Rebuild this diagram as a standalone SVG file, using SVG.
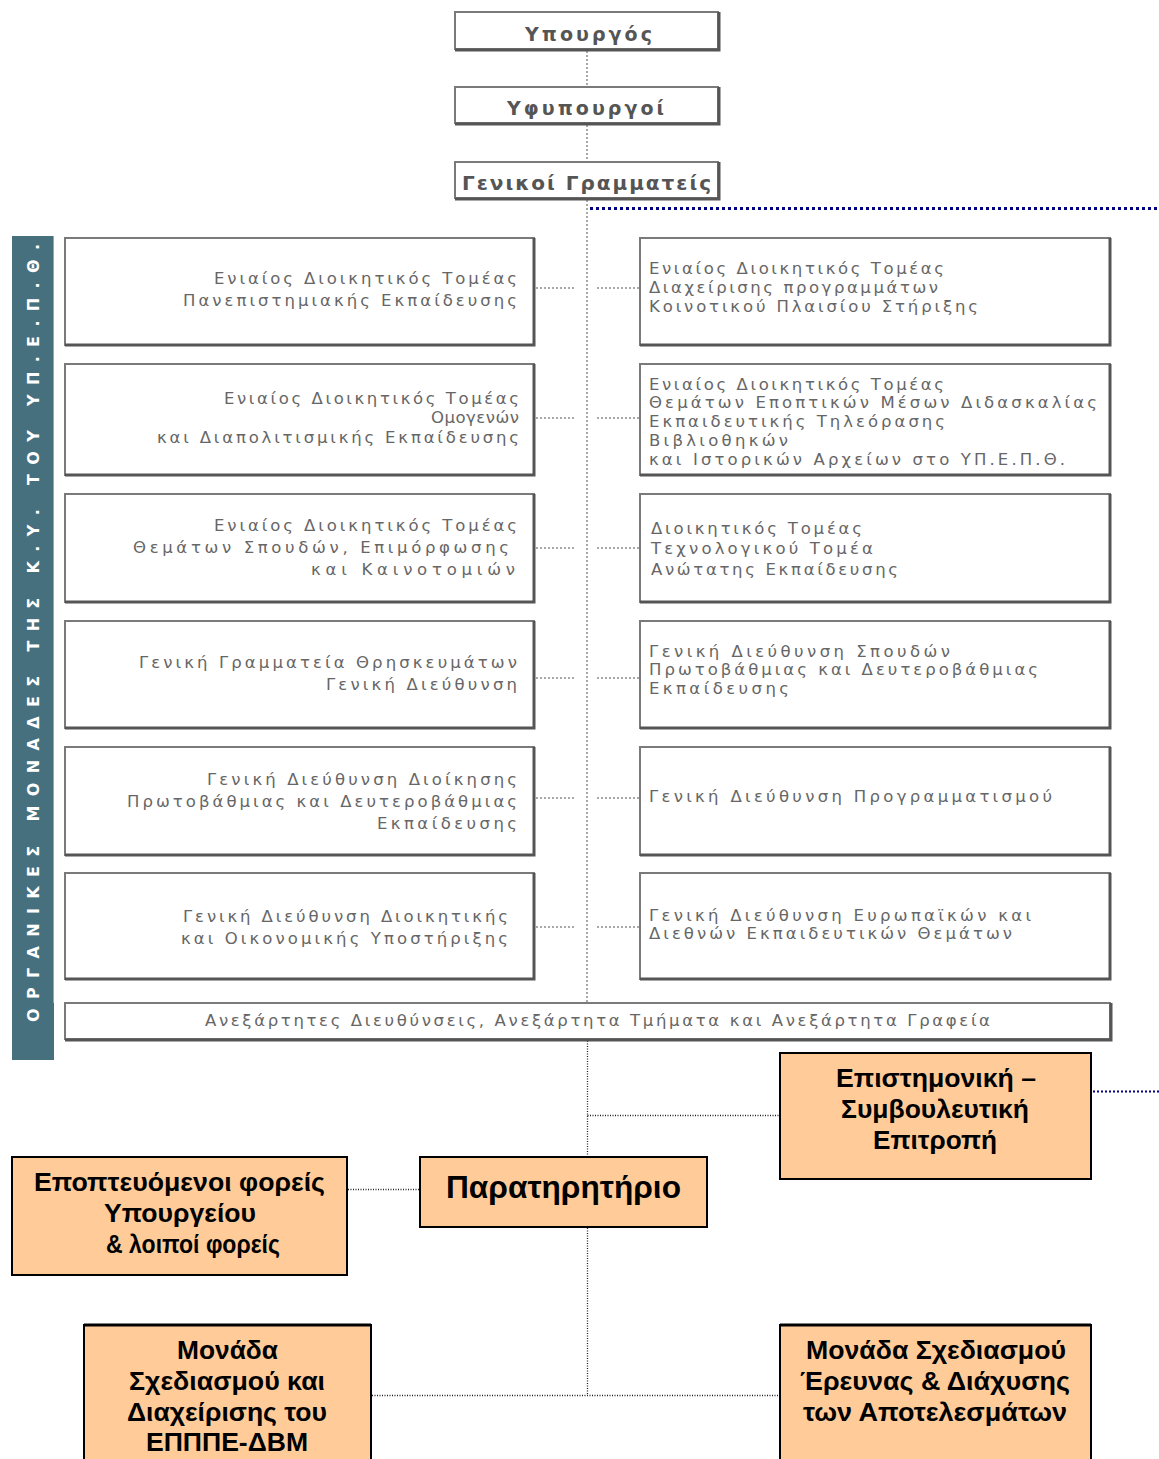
<svg xmlns="http://www.w3.org/2000/svg" width="1159" height="1459" viewBox="0 0 1159 1459">
<style>
.bg{fill:#ffffff}
.gbox{fill:#ffffff;stroke:#7a7a7a;stroke-width:2}
.gsh{fill:none;stroke:#555555;stroke-width:3}
.obox{fill:#ffcc99;stroke:#000000;stroke-width:2}
.t{font-family:"DejaVu Sans",Verdana,sans-serif;font-size:16.5px;fill:#666666}
.tt{font-family:"DejaVu Sans",Verdana,sans-serif;font-size:19px;font-weight:bold;fill:#555555}
.ot{font-family:"Liberation Sans",Arial,sans-serif;font-size:26px;font-weight:bold;fill:#000000}
.side{font-family:"DejaVu Sans",Verdana,sans-serif;font-size:16px;font-weight:bold;fill:#ffffff}
.gd{fill:none;stroke:#a8a8a8;stroke-width:2;stroke-dasharray:2,2}
.kd{fill:none;stroke:#222222;stroke-width:1.3;stroke-dasharray:1,1.5}
.bd{fill:none;stroke:#000080;stroke-width:3;stroke-dasharray:3,3}
</style>
<rect class="bg" x="0" y="0" width="1159" height="1459"/>

<g id="connectors">
  <line class="gd" x1="587" y1="51" x2="587" y2="87"/>
  <line class="gd" x1="587" y1="125" x2="587" y2="162"/>
  <line class="gd" x1="587" y1="200" x2="587" y2="1003"/>
  <line class="bd" x1="590" y1="208.5" x2="1159" y2="208.5"/>
  <g>
    <line class="gd" x1="536" y1="288" x2="576" y2="288"/><line class="gd" x1="597" y1="288" x2="639" y2="288"/>
    <line class="gd" x1="536" y1="418" x2="576" y2="418"/><line class="gd" x1="597" y1="418" x2="639" y2="418"/>
    <line class="gd" x1="536" y1="548" x2="576" y2="548"/><line class="gd" x1="597" y1="548" x2="639" y2="548"/>
    <line class="gd" x1="536" y1="678" x2="576" y2="678"/><line class="gd" x1="597" y1="678" x2="639" y2="678"/>
    <line class="gd" x1="536" y1="798" x2="576" y2="798"/><line class="gd" x1="597" y1="798" x2="639" y2="798"/>
    <line class="gd" x1="536" y1="927" x2="576" y2="927"/><line class="gd" x1="597" y1="927" x2="639" y2="927"/>
  </g>
  <line class="kd" x1="587.5" y1="1041" x2="587.5" y2="1156"/>
  <line class="kd" x1="587.5" y1="1115.5" x2="779" y2="1115.5"/>
  <line class="bd" x1="1093" y1="1091.5" x2="1159" y2="1091.5" style="stroke-width:2;stroke-dasharray:2,2"/>
  <line class="kd" x1="348" y1="1189.5" x2="419" y2="1189.5"/>
  <line class="kd" x1="587.5" y1="1228" x2="587.5" y2="1395"/>
  <line class="kd" x1="372" y1="1395.5" x2="779" y2="1395.5"/>
</g>

<g id="n-ypourgos">
  <rect class="gbox" x="455" y="12" width="263" height="37"/>
  <path class="gsh" d="M455 50 H719 V12"/>
  <text class="tt" x="525" y="41" textLength="127" lengthAdjust="spacing">Υπουργός</text>
</g>
<g id="n-yfypourgoi">
  <rect class="gbox" x="455" y="87" width="263" height="36"/>
  <path class="gsh" d="M455 124 H719 V87"/>
  <text class="tt" x="507" y="115" textLength="157" lengthAdjust="spacing">Υφυπουργοί</text>
</g>
<g id="n-genikoi">
  <rect class="gbox" x="455" y="162" width="263" height="36"/>
  <path class="gsh" d="M455 199 H719 V162"/>
  <text class="tt" x="462" y="190" textLength="249" lengthAdjust="spacing" style="font-size:20px">Γενικοί Γραμματείς</text>
</g>

<g id="n-sidebar">
  <rect x="12" y="236" width="42" height="824" fill="#47707f"/>
  <line x1="53.5" y1="236" x2="53.5" y2="1003" stroke="#8fa9b3" stroke-width="1"/>
  <text class="side" transform="translate(39,1022) rotate(-90)" x="0" y="0" textLength="778" lengthAdjust="spacing">ΟΡΓΑΝΙΚΕΣ ΜΟΝΑΔΕΣ ΤΗΣ Κ.Υ. ΤΟΥ ΥΠ.Ε.Π.Θ.</text>
</g>

<g id="n-l1">
  <rect class="gbox" x="65" y="238" width="469" height="107"/>
  <path class="gsh" d="M65 345 H534 V238"/>
  <text class="t" x="214" y="284" textLength="303" lengthAdjust="spacing">Ενιαίος Διοικητικός  Τομέας</text>
  <text class="t" x="183" y="306" textLength="334" lengthAdjust="spacing">Πανεπιστημιακής Εκπαίδευσης</text>
</g>
<g id="n-l2">
  <rect class="gbox" x="65" y="364" width="469" height="111"/>
  <path class="gsh" d="M65 475 H534 V364"/>
  <text class="t" x="224" y="404" textLength="295" lengthAdjust="spacing">Ενιαίος Διοικητικός Τομέας</text>
  <text class="t" x="431" y="423" textLength="88" lengthAdjust="spacing">Ομογενών</text>
  <text class="t" x="157" y="443" textLength="362" lengthAdjust="spacing">και Διαπολιτισμικής Εκπαίδευσης</text>
</g>
<g id="n-l3">
  <rect class="gbox" x="65" y="494" width="469" height="108"/>
  <path class="gsh" d="M65 602 H534 V494"/>
  <text class="t" x="214" y="531" textLength="303" lengthAdjust="spacing">Ενιαίος Διοικητικός  Τομέας</text>
  <text class="t" x="133" y="553" textLength="376" lengthAdjust="spacing">Θεμάτων Σπουδών, Επιμόρφωσης</text>
  <text class="t" x="311" y="575" textLength="204" lengthAdjust="spacing">και Καινοτομιών</text>
</g>
<g id="n-l4">
  <rect class="gbox" x="65" y="621" width="469" height="107"/>
  <path class="gsh" d="M65 728 H534 V621"/>
  <text class="t" x="139" y="668" textLength="378" lengthAdjust="spacing">Γενική Γραμματεία Θρησκευμάτων</text>
  <text class="t" x="326" y="690" textLength="191" lengthAdjust="spacing">Γενική Διεύθυνση</text>
</g>
<g id="n-l5">
  <rect class="gbox" x="65" y="747" width="469" height="108"/>
  <path class="gsh" d="M65 855 H534 V747"/>
  <text class="t" x="207" y="785" textLength="310" lengthAdjust="spacing">Γενική Διεύθυνση Διοίκησης</text>
  <text class="t" x="127" y="807" textLength="390" lengthAdjust="spacing">Πρωτοβάθμιας και Δευτεροβάθμιας</text>
  <text class="t" x="377" y="829" textLength="140" lengthAdjust="spacing">Εκπαίδευσης</text>
</g>
<g id="n-l6">
  <rect class="gbox" x="65" y="873" width="469" height="106"/>
  <path class="gsh" d="M65 979 H534 V873"/>
  <text class="t" x="183" y="922" textLength="325" lengthAdjust="spacing">Γενική Διεύθυνση Διοικητικής</text>
  <text class="t" x="181" y="944" textLength="327" lengthAdjust="spacing">και Οικονομικής Υποστήριξης</text>
</g>

<g id="n-r1">
  <rect class="gbox" x="640" y="238" width="470" height="107"/>
  <path class="gsh" d="M640 345 H1110 V238"/>
  <text class="t" x="649" y="274" textLength="295" lengthAdjust="spacing">Ενιαίος Διοικητικός Τομέας</text>
  <text class="t" x="649" y="293" textLength="289" lengthAdjust="spacing">Διαχείρισης προγραμμάτων</text>
  <text class="t" x="649" y="312" textLength="329" lengthAdjust="spacing">Κοινοτικού Πλαισίου Στήριξης</text>
</g>
<g id="n-r2">
  <rect class="gbox" x="640" y="364" width="470" height="111"/>
  <path class="gsh" d="M640 475 H1110 V364"/>
  <text class="t" x="649" y="390" textLength="295" lengthAdjust="spacing">Ενιαίος Διοικητικός Τομέας</text>
  <text class="t" x="649" y="408" textLength="448" lengthAdjust="spacing">Θεμάτων Εποπτικών Μέσων Διδασκαλίας</text>
  <text class="t" x="649" y="427" textLength="296" lengthAdjust="spacing">Εκπαιδευτικής Τηλεόρασης</text>
  <text class="t" x="649" y="446" textLength="139" lengthAdjust="spacing">Βιβλιοθηκών</text>
  <text class="t" x="649" y="465" textLength="416" lengthAdjust="spacing">και Ιστορικών Αρχείων στο ΥΠ.Ε.Π.Θ.</text>
</g>
<g id="n-r3">
  <rect class="gbox" x="640" y="494" width="470" height="108"/>
  <path class="gsh" d="M640 602 H1110 V494"/>
  <text class="t" x="651" y="534" textLength="211" lengthAdjust="spacing">Διοικητικός Τομέας</text>
  <text class="t" x="651" y="554" textLength="222" lengthAdjust="spacing">Τεχνολογικού Τομέα</text>
  <text class="t" x="651" y="575" textLength="247" lengthAdjust="spacing">Ανώτατης Εκπαίδευσης</text>
</g>
<g id="n-r4">
  <rect class="gbox" x="640" y="621" width="470" height="107"/>
  <path class="gsh" d="M640 728 H1110 V621"/>
  <text class="t" x="649" y="657" textLength="301" lengthAdjust="spacing">Γενική Διεύθυνση Σπουδών</text>
  <text class="t" x="649" y="675" textLength="389" lengthAdjust="spacing">Πρωτοβάθμιας και Δευτεροβάθμιας</text>
  <text class="t" x="649" y="694" textLength="140" lengthAdjust="spacing">Εκπαίδευσης</text>
</g>
<g id="n-r5">
  <rect class="gbox" x="640" y="747" width="470" height="108"/>
  <path class="gsh" d="M640 855 H1110 V747"/>
  <text class="t" x="649" y="802" textLength="403" lengthAdjust="spacing">Γενική Διεύθυνση Προγραμματισμού</text>
</g>
<g id="n-r6">
  <rect class="gbox" x="640" y="873" width="470" height="106"/>
  <path class="gsh" d="M640 979 H1110 V873"/>
  <text class="t" x="649" y="921" textLength="382" lengthAdjust="spacing">Γενική Διεύθυνση Ευρωπαϊκών και</text>
  <text class="t" x="649" y="939" textLength="363" lengthAdjust="spacing">Διεθνών Εκπαιδευτικών Θεμάτων</text>
</g>

<g id="n-anexartites">
  <rect class="gbox" x="65" y="1003" width="1045" height="36"/>
  <path class="gsh" d="M65 1040 H1111 V1003"/>
  <text class="t" x="205" y="1026" textLength="785" lengthAdjust="spacing">Ανεξάρτητες Διευθύνσεις, Ανεξάρτητα Τμήματα και Ανεξάρτητα Γραφεία</text>
</g>

<g id="n-epitropi">
  <rect class="obox" x="780" y="1053" width="311" height="126"/>
  <text class="ot" x="836" y="1087" textLength="200" lengthAdjust="spacingAndGlyphs">Επιστημονική –</text>
  <text class="ot" x="841" y="1118" textLength="188" lengthAdjust="spacingAndGlyphs">Συμβουλευτική</text>
  <text class="ot" x="873" y="1149" textLength="124" lengthAdjust="spacingAndGlyphs">Επιτροπή</text>
</g>
<g id="n-foreis">
  <rect class="obox" x="12" y="1157" width="335" height="118"/>
  <text class="ot" x="34" y="1191" textLength="291" lengthAdjust="spacingAndGlyphs">Εποπτευόμενοι φορείς</text>
  <text class="ot" x="104" y="1222" textLength="152" lengthAdjust="spacingAndGlyphs">Υπουργείου</text>
  <text class="ot" x="106" y="1253" textLength="174" lengthAdjust="spacingAndGlyphs">&amp; λοιποί φορείς</text>
</g>
<g id="n-paratiritirio">
  <rect class="obox" x="420" y="1157" width="287" height="70"/>
  <text class="ot" x="446" y="1198" textLength="235" lengthAdjust="spacingAndGlyphs" style="font-size:32px">Παρατηρητήριο</text>
</g>
<g id="n-monada-eppe">
  <rect class="obox" x="84" y="1325" width="287" height="140"/>
  <line x1="84" y1="1325" x2="371" y2="1325" stroke="#000" stroke-width="3"/>
  <text class="ot" x="177" y="1359" textLength="101" lengthAdjust="spacingAndGlyphs">Μονάδα</text>
  <text class="ot" x="129" y="1390" textLength="196" lengthAdjust="spacingAndGlyphs">Σχεδιασμού και</text>
  <text class="ot" x="127" y="1421" textLength="200" lengthAdjust="spacingAndGlyphs">Διαχείρισης του</text>
  <text class="ot" x="146" y="1451" textLength="162" lengthAdjust="spacingAndGlyphs">ΕΠΠΠΕ-ΔΒΜ</text>
</g>
<g id="n-monada-ereuna">
  <rect class="obox" x="780" y="1325" width="311" height="140"/>
  <line x1="780" y1="1325" x2="1091" y2="1325" stroke="#000" stroke-width="3"/>
  <text class="ot" x="806" y="1359" textLength="260" lengthAdjust="spacingAndGlyphs">Μονάδα Σχεδιασμού</text>
  <text class="ot" x="800" y="1390" textLength="270" lengthAdjust="spacingAndGlyphs">Έρευνας &amp; Διάχυσης</text>
  <text class="ot" x="803" y="1421" textLength="264" lengthAdjust="spacingAndGlyphs">των Αποτελεσμάτων</text>
</g>
</svg>
